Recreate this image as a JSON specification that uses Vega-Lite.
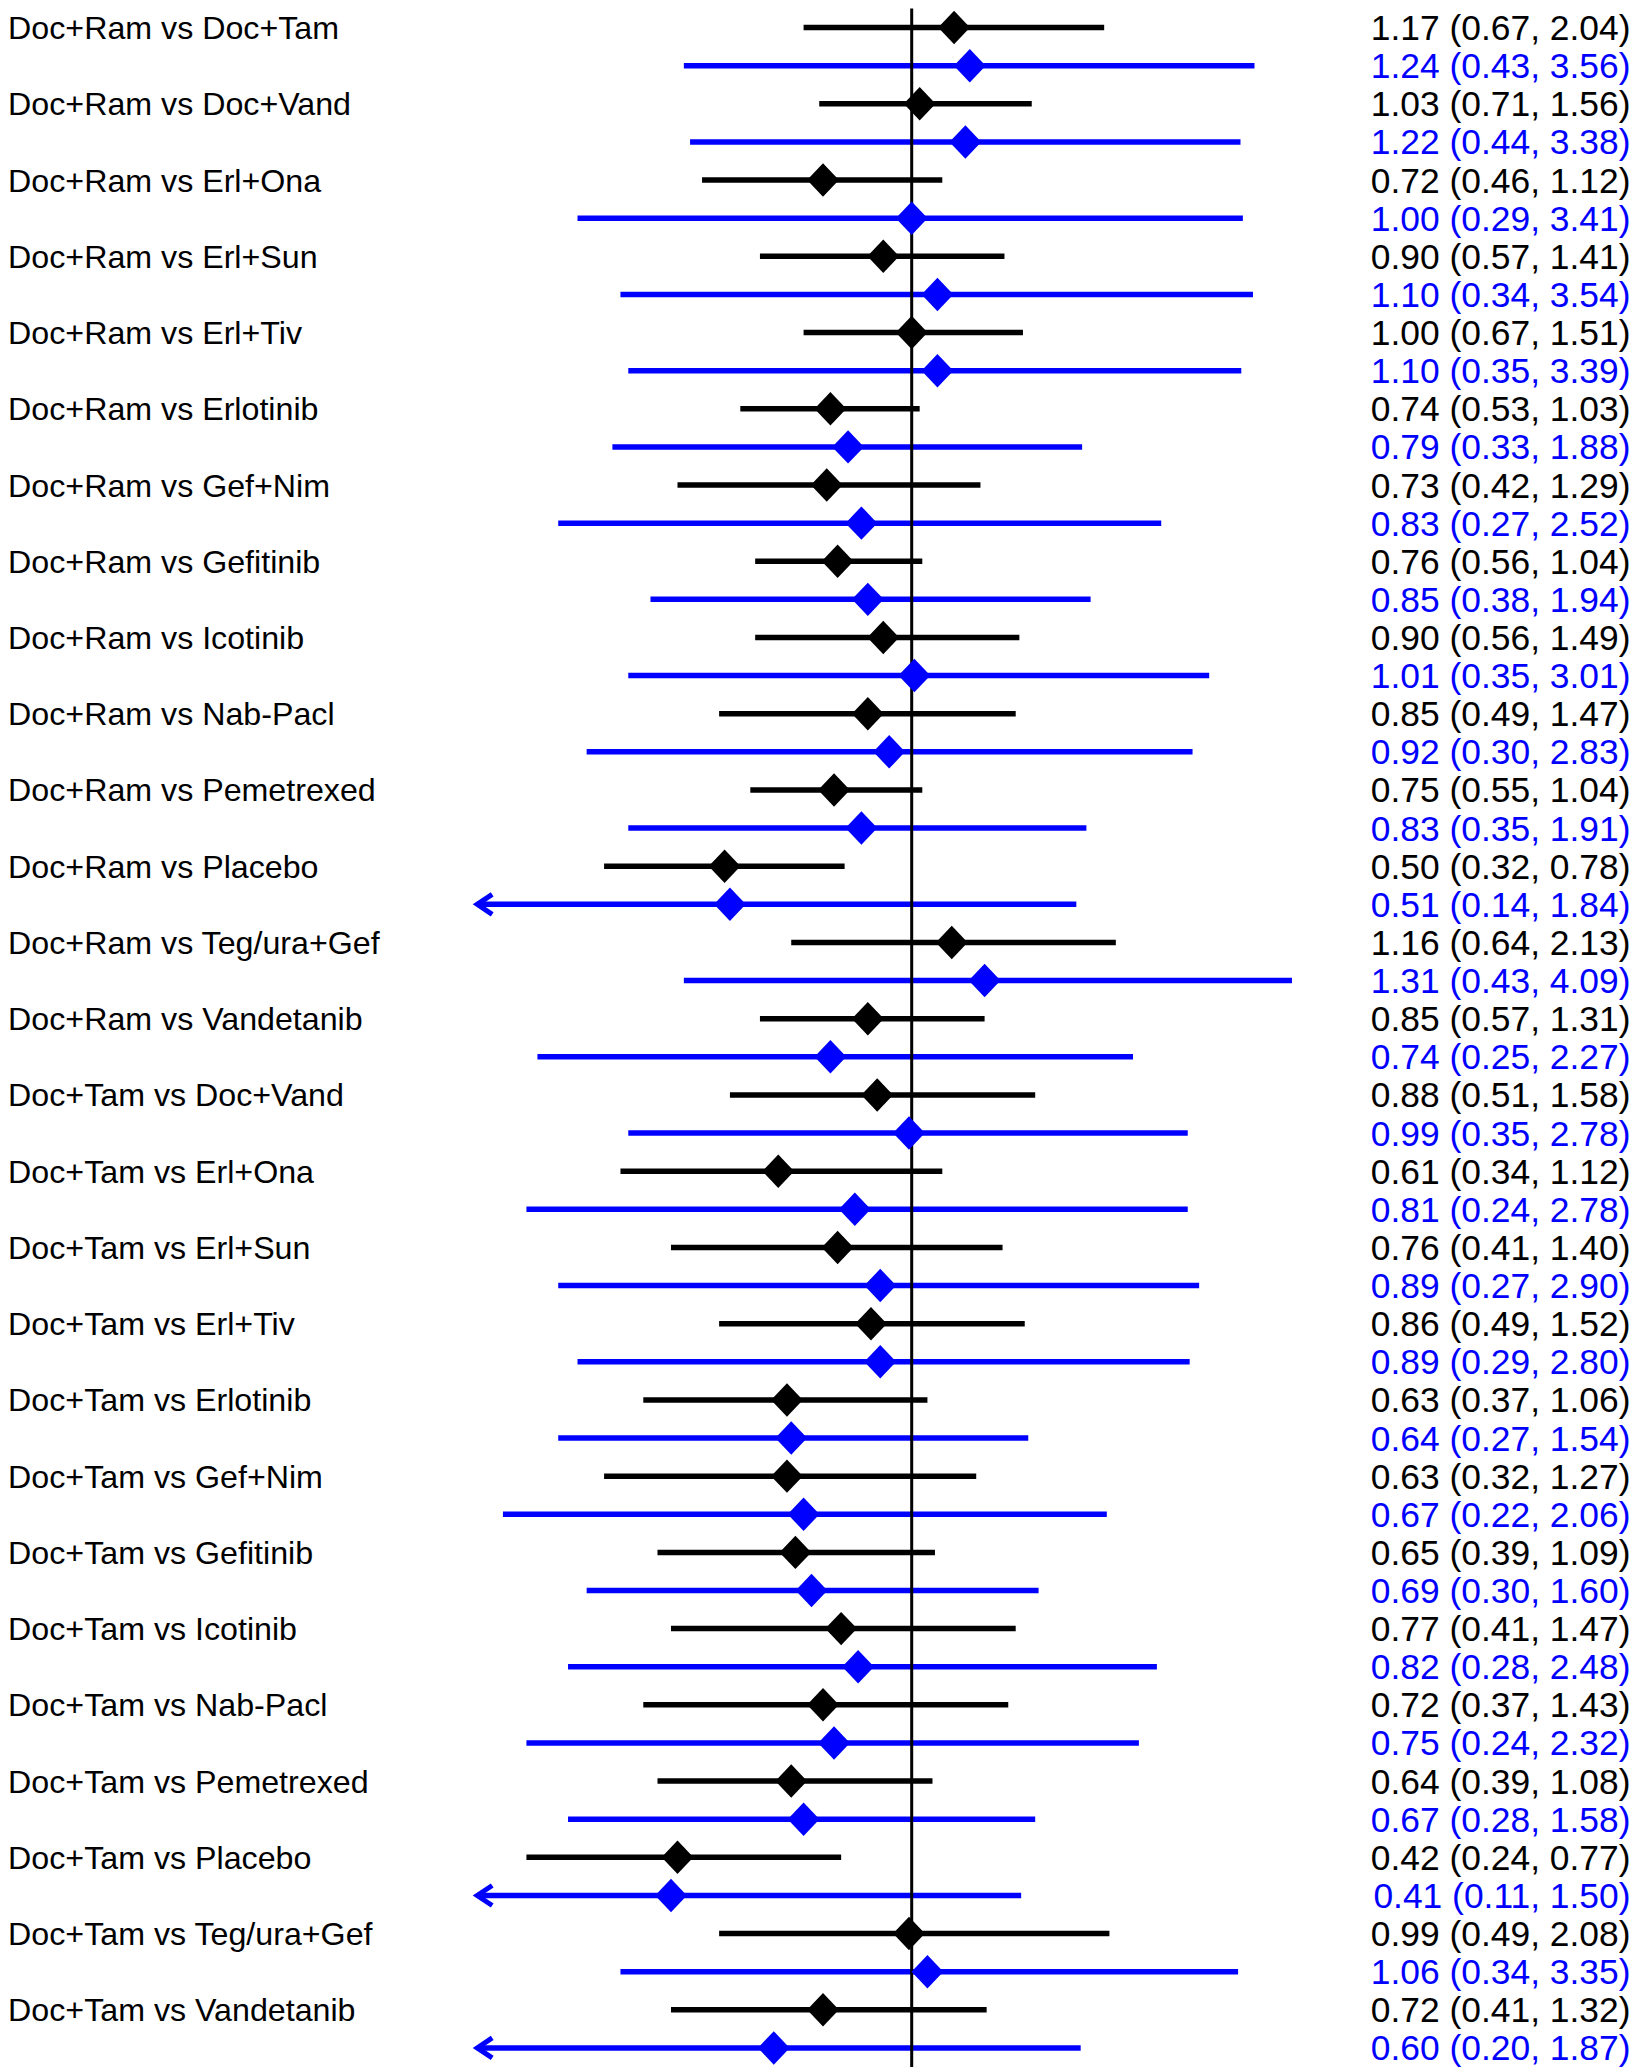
{
  "$schema": "https://vega.github.io/schema/vega-lite/v6.json",
  "width": 869,
  "height": 2058.5,
  "autosize": {"type": "none"},
  "padding": {"left": 477.2, "right": 287.8, "top": 8.5, "bottom": 0},
  "background": "#ffffff",
  "config": {"view": {"stroke": null}, "font": "Liberation Sans"},
  "data": {"values": [
    {"id": "Doc+Ram vs Doc+Tam", "series": "A", "est": 1.17, "lo": 0.67, "hi": 2.04, "ci": "1.17 (0.67, 2.04)"},
    {"id": "Doc+Ram vs Doc+Tam #2", "series": "B", "est": 1.24, "lo": 0.43, "hi": 3.56, "ci": "1.24 (0.43, 3.56)"},
    {"id": "Doc+Ram vs Doc+Vand", "series": "A", "est": 1.03, "lo": 0.71, "hi": 1.56, "ci": "1.03 (0.71, 1.56)"},
    {"id": "Doc+Ram vs Doc+Vand #2", "series": "B", "est": 1.22, "lo": 0.44, "hi": 3.38, "ci": "1.22 (0.44, 3.38)"},
    {"id": "Doc+Ram vs Erl+Ona", "series": "A", "est": 0.72, "lo": 0.46, "hi": 1.12, "ci": "0.72 (0.46, 1.12)"},
    {"id": "Doc+Ram vs Erl+Ona #2", "series": "B", "est": 1.00, "lo": 0.29, "hi": 3.41, "ci": "1.00 (0.29, 3.41)"},
    {"id": "Doc+Ram vs Erl+Sun", "series": "A", "est": 0.90, "lo": 0.57, "hi": 1.41, "ci": "0.90 (0.57, 1.41)"},
    {"id": "Doc+Ram vs Erl+Sun #2", "series": "B", "est": 1.10, "lo": 0.34, "hi": 3.54, "ci": "1.10 (0.34, 3.54)"},
    {"id": "Doc+Ram vs Erl+Tiv", "series": "A", "est": 1.00, "lo": 0.67, "hi": 1.51, "ci": "1.00 (0.67, 1.51)"},
    {"id": "Doc+Ram vs Erl+Tiv #2", "series": "B", "est": 1.10, "lo": 0.35, "hi": 3.39, "ci": "1.10 (0.35, 3.39)"},
    {"id": "Doc+Ram vs Erlotinib", "series": "A", "est": 0.74, "lo": 0.53, "hi": 1.03, "ci": "0.74 (0.53, 1.03)"},
    {"id": "Doc+Ram vs Erlotinib #2", "series": "B", "est": 0.79, "lo": 0.33, "hi": 1.88, "ci": "0.79 (0.33, 1.88)"},
    {"id": "Doc+Ram vs Gef+Nim", "series": "A", "est": 0.73, "lo": 0.42, "hi": 1.29, "ci": "0.73 (0.42, 1.29)"},
    {"id": "Doc+Ram vs Gef+Nim #2", "series": "B", "est": 0.83, "lo": 0.27, "hi": 2.52, "ci": "0.83 (0.27, 2.52)"},
    {"id": "Doc+Ram vs Gefitinib", "series": "A", "est": 0.76, "lo": 0.56, "hi": 1.04, "ci": "0.76 (0.56, 1.04)"},
    {"id": "Doc+Ram vs Gefitinib #2", "series": "B", "est": 0.85, "lo": 0.38, "hi": 1.94, "ci": "0.85 (0.38, 1.94)"},
    {"id": "Doc+Ram vs Icotinib", "series": "A", "est": 0.90, "lo": 0.56, "hi": 1.49, "ci": "0.90 (0.56, 1.49)"},
    {"id": "Doc+Ram vs Icotinib #2", "series": "B", "est": 1.01, "lo": 0.35, "hi": 3.01, "ci": "1.01 (0.35, 3.01)"},
    {"id": "Doc+Ram vs Nab-Pacl", "series": "A", "est": 0.85, "lo": 0.49, "hi": 1.47, "ci": "0.85 (0.49, 1.47)"},
    {"id": "Doc+Ram vs Nab-Pacl #2", "series": "B", "est": 0.92, "lo": 0.30, "hi": 2.83, "ci": "0.92 (0.30, 2.83)"},
    {"id": "Doc+Ram vs Pemetrexed", "series": "A", "est": 0.75, "lo": 0.55, "hi": 1.04, "ci": "0.75 (0.55, 1.04)"},
    {"id": "Doc+Ram vs Pemetrexed #2", "series": "B", "est": 0.83, "lo": 0.35, "hi": 1.91, "ci": "0.83 (0.35, 1.91)"},
    {"id": "Doc+Ram vs Placebo", "series": "A", "est": 0.50, "lo": 0.32, "hi": 0.78, "ci": "0.50 (0.32, 0.78)"},
    {"id": "Doc+Ram vs Placebo #2", "series": "B", "est": 0.51, "lo": 0.14, "hi": 1.84, "ci": "0.51 (0.14, 1.84)"},
    {"id": "Doc+Ram vs Teg/ura+Gef", "series": "A", "est": 1.16, "lo": 0.64, "hi": 2.13, "ci": "1.16 (0.64, 2.13)"},
    {"id": "Doc+Ram vs Teg/ura+Gef #2", "series": "B", "est": 1.31, "lo": 0.43, "hi": 4.09, "ci": "1.31 (0.43, 4.09)"},
    {"id": "Doc+Ram vs Vandetanib", "series": "A", "est": 0.85, "lo": 0.57, "hi": 1.31, "ci": "0.85 (0.57, 1.31)"},
    {"id": "Doc+Ram vs Vandetanib #2", "series": "B", "est": 0.74, "lo": 0.25, "hi": 2.27, "ci": "0.74 (0.25, 2.27)"},
    {"id": "Doc+Tam vs Doc+Vand", "series": "A", "est": 0.88, "lo": 0.51, "hi": 1.58, "ci": "0.88 (0.51, 1.58)"},
    {"id": "Doc+Tam vs Doc+Vand #2", "series": "B", "est": 0.99, "lo": 0.35, "hi": 2.78, "ci": "0.99 (0.35, 2.78)"},
    {"id": "Doc+Tam vs Erl+Ona", "series": "A", "est": 0.61, "lo": 0.34, "hi": 1.12, "ci": "0.61 (0.34, 1.12)"},
    {"id": "Doc+Tam vs Erl+Ona #2", "series": "B", "est": 0.81, "lo": 0.24, "hi": 2.78, "ci": "0.81 (0.24, 2.78)"},
    {"id": "Doc+Tam vs Erl+Sun", "series": "A", "est": 0.76, "lo": 0.41, "hi": 1.40, "ci": "0.76 (0.41, 1.40)"},
    {"id": "Doc+Tam vs Erl+Sun #2", "series": "B", "est": 0.89, "lo": 0.27, "hi": 2.90, "ci": "0.89 (0.27, 2.90)"},
    {"id": "Doc+Tam vs Erl+Tiv", "series": "A", "est": 0.86, "lo": 0.49, "hi": 1.52, "ci": "0.86 (0.49, 1.52)"},
    {"id": "Doc+Tam vs Erl+Tiv #2", "series": "B", "est": 0.89, "lo": 0.29, "hi": 2.80, "ci": "0.89 (0.29, 2.80)"},
    {"id": "Doc+Tam vs Erlotinib", "series": "A", "est": 0.63, "lo": 0.37, "hi": 1.06, "ci": "0.63 (0.37, 1.06)"},
    {"id": "Doc+Tam vs Erlotinib #2", "series": "B", "est": 0.64, "lo": 0.27, "hi": 1.54, "ci": "0.64 (0.27, 1.54)"},
    {"id": "Doc+Tam vs Gef+Nim", "series": "A", "est": 0.63, "lo": 0.32, "hi": 1.27, "ci": "0.63 (0.32, 1.27)"},
    {"id": "Doc+Tam vs Gef+Nim #2", "series": "B", "est": 0.67, "lo": 0.22, "hi": 2.06, "ci": "0.67 (0.22, 2.06)"},
    {"id": "Doc+Tam vs Gefitinib", "series": "A", "est": 0.65, "lo": 0.39, "hi": 1.09, "ci": "0.65 (0.39, 1.09)"},
    {"id": "Doc+Tam vs Gefitinib #2", "series": "B", "est": 0.69, "lo": 0.30, "hi": 1.60, "ci": "0.69 (0.30, 1.60)"},
    {"id": "Doc+Tam vs Icotinib", "series": "A", "est": 0.77, "lo": 0.41, "hi": 1.47, "ci": "0.77 (0.41, 1.47)"},
    {"id": "Doc+Tam vs Icotinib #2", "series": "B", "est": 0.82, "lo": 0.28, "hi": 2.48, "ci": "0.82 (0.28, 2.48)"},
    {"id": "Doc+Tam vs Nab-Pacl", "series": "A", "est": 0.72, "lo": 0.37, "hi": 1.43, "ci": "0.72 (0.37, 1.43)"},
    {"id": "Doc+Tam vs Nab-Pacl #2", "series": "B", "est": 0.75, "lo": 0.24, "hi": 2.32, "ci": "0.75 (0.24, 2.32)"},
    {"id": "Doc+Tam vs Pemetrexed", "series": "A", "est": 0.64, "lo": 0.39, "hi": 1.08, "ci": "0.64 (0.39, 1.08)"},
    {"id": "Doc+Tam vs Pemetrexed #2", "series": "B", "est": 0.67, "lo": 0.28, "hi": 1.58, "ci": "0.67 (0.28, 1.58)"},
    {"id": "Doc+Tam vs Placebo", "series": "A", "est": 0.42, "lo": 0.24, "hi": 0.77, "ci": "0.42 (0.24, 0.77)"},
    {"id": "Doc+Tam vs Placebo #2", "series": "B", "est": 0.41, "lo": 0.11, "hi": 1.50, "ci": "0.41 (0.11, 1.50)"},
    {"id": "Doc+Tam vs Teg/ura+Gef", "series": "A", "est": 0.99, "lo": 0.49, "hi": 2.08, "ci": "0.99 (0.49, 2.08)"},
    {"id": "Doc+Tam vs Teg/ura+Gef #2", "series": "B", "est": 1.06, "lo": 0.34, "hi": 3.35, "ci": "1.06 (0.34, 3.35)"},
    {"id": "Doc+Tam vs Vandetanib", "series": "A", "est": 0.72, "lo": 0.41, "hi": 1.32, "ci": "0.72 (0.41, 1.32)"},
    {"id": "Doc+Tam vs Vandetanib #2", "series": "B", "est": 0.60, "lo": 0.20, "hi": 1.87, "ci": "0.60 (0.20, 1.87)"}
  ]},
  "encoding": {
    "x": {"field": "lo", "type": "quantitative", "scale": {"type": "log", "domain": [0.2, 5], "clamp": true, "nice": false}, "axis": null}
  },
  "layer": [
    {
      "encoding": {
        "y": {"field": "id", "type": "nominal", "sort": null,
              "scale": {"type": "band", "paddingInner": 0, "paddingOuter": 0},
              "axis": {"orient": "left", "title": null, "domain": false, "ticks": false, "tickSize": 0, "grid": false,
                       "labelPadding": 469.6, "labelAlign": "left", "labelBaseline": "middle", "labelFontSize": 32.2,
                       "labelOffset": 1.5,
                       "labelFont": "Liberation Sans", "labelColor": "#000000", "labelLimit": 900,
                       "labelOverlap": false, "labelBound": false,
                       "labelExpr": "indexof(datum.value, '#') >= 0 ? '' : datum.value"}}
      },
      "layer": [
        {
          "mark": {"type": "rule", "strokeWidth": 5.5, "strokeCap": "butt"},
          "encoding": {
            "x2": {"field": "hi"},
            "color": {"field": "series", "type": "nominal", "scale": {"domain": ["A", "B"], "range": ["#000000", "#0000ff"]}, "legend": null}
          }
        },
        {
          "mark": {"type": "point", "shape": "M1.5,-1L0,0L1.5,1", "filled": false, "size": 400, "strokeWidth": 5, "color": "#0000ff", "strokeJoin": "miter", "strokeCap": "butt"},
          "encoding": {
            "opacity": {"condition": {"test": "datum.lo <= 0.2", "value": 1}, "value": 0}
          }
        },
        {
          "data": {"values": [{"ref": 1}]},
          "mark": {"type": "rule", "strokeWidth": 3, "color": "#000000"},
          "encoding": {
            "x": {"field": "ref", "type": "quantitative"},
            "y": null
          }
        }
      ]
    },
    {
      "mark": {"type": "point", "shape": "M0,-1L0.95,0L0,1L-0.95,0Z", "filled": true, "size": 1120, "opacity": 1, "strokeWidth": 0},
      "encoding": {
        "x": {"field": "est", "type": "quantitative"},
        "y": {"field": "ci", "type": "nominal", "sort": null,
              "scale": {"type": "band", "paddingInner": 0, "paddingOuter": 0},
              "axis": {"orient": "right", "title": null, "domain": false, "ticks": false, "tickSize": 0, "grid": false,
                       "labelPadding": 283.8, "labelAlign": "right", "labelBaseline": "middle", "labelFontSize": 35.4,
                       "labelOffset": 1.5,
                       "labelFont": "Liberation Sans", "labelLimit": 900, "labelOverlap": false, "labelBound": false,
                       "labelColor": {"condition": {"test": "round(datum.index * 53) % 2 == 1", "value": "#0000ff"}, "value": "#000000"}}},
        "color": {"field": "series", "type": "nominal", "scale": {"domain": ["A", "B"], "range": ["#000000", "#0000ff"]}, "legend": null}
      }
    }
  ],
  "resolve": {"scale": {"y": "independent"}}
}
